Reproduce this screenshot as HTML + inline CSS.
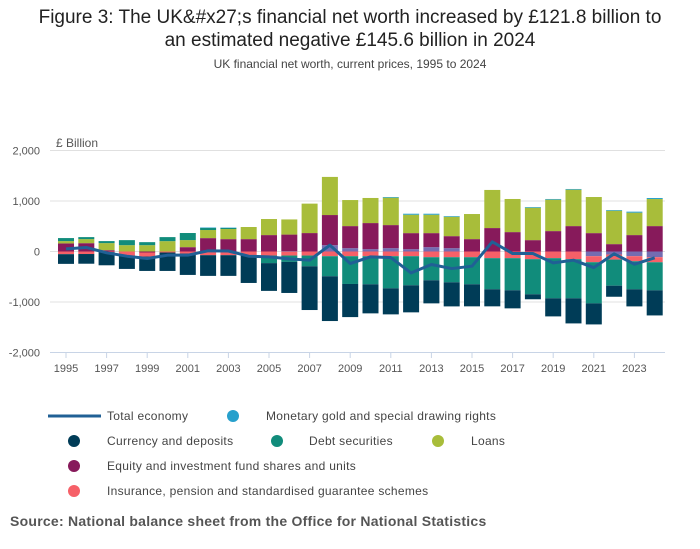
<!DOCTYPE html>
<html><head><meta charset="utf-8">
<style>
body{margin:0;background:#fff;font-family:"Liberation Sans",sans-serif;}
#wrap{position:relative;width:700px;height:549px;overflow:hidden;}
.t{position:absolute;left:0;width:700px;text-align:center;color:#222;}
</style></head>
<body>
<div id="wrap">
<div class="t" style="top:6px;font-size:19px;line-height:23px;">Figure 3: The UK&amp;#x27;s financial net worth increased by £121.8 billion to<br>an estimated negative £145.6 billion in 2024</div>
<div class="t" style="top:57px;font-size:12px;color:#444;">UK financial net worth, current prices, 1995 to 2024</div>
<svg id="chart" width="700" height="549" style="position:absolute;left:0;top:0"></svg>
</div>
<script>
const years=[1995,1996,1997,1998,1999,2000,2001,2002,2003,2004,2005,2006,2007,2008,2009,2010,2011,2012,2013,2014,2015,2016,2017,2018,2019,2020,2021,2022,2023,2024];
const currency=[-192,-192,-260,-265,-285,-365,-424,-410,-410,-550,-550,-615,-867,-887,-656,-576,-516,-536,-457,-477,-437,-338,-358,-99,-358,-497,-417,-219,-338,-497];
const debt=[60,40,40,100,60,80,140,40,20,0,-150,-126,-212,-397,-550,-556,-636,-576,-457,-497,-536,-616,-636,-695,-795,-775,-815,-517,-556,-556];
const loans=[46,80,140,125,125,205,140,160,200,240,318,300,583,755,516,497,543,364,364,384,497,755,656,642,623,722,715,662,444,536];
const equity=[160,165,26,0,-20,0,86,265,245,245,325,325,365,596,437,517,457,318,278,238,245,464,384,225,404,503,364,146,325,503];
const insurance=[-53,-50,-13,-80,-80,-20,-40,-73,-73,-73,-80,-80,-80,-93,-93,-93,-93,-93,-113,-113,-113,-132,-132,-152,-132,-152,-119,-100,-100,-100];
const gold=[0,0,0,0,0,0,0,10,8,0,0,0,0,0,0,0,13,20,20,13,0,0,0,13,13,13,0,13,20,20];
const other=[0,0,0,0,0,0,0,0,0,0,0,10,0,126,66,46,66,46,86,66,0,0,0,0,0,0,-93,-60,-93,-113];
const total=[53,80,-26,-93,-139,-73,-73,13,10,-93,-106,-146,-172,126,-238,-106,-119,-424,-258,-338,-291,192,-40,-40,-225,-172,-318,-46,-252,-126];
const yTicks=[2000,1000,0,-1000,-2000];
const yTickLabels=["2,000","1,000","0","-1,000","-2,000"];

const NS="http://www.w3.org/2000/svg";
const svg=document.getElementById('chart');
const X0=50,X1=665;
function xs(yr){return 66+(yr-1995)*20.3;}
function ys(v){return 251.5-v*0.0505;}
function mk(tag,attrs,parent){const e=document.createElementNS(NS,tag);for(const k in attrs)e.setAttribute(k,attrs[k]);(parent||svg).appendChild(e);return e;}

yTicks.forEach((v,i)=>{
  const g=mk('line',{x1:X0,x2:X1,y1:ys(v),y2:ys(v),stroke:v===-2000?'#c8d4e6':'#e0e0e0','stroke-width':1});
  
  
  const t=mk('text',{x:40,y:ys(v)+4,'text-anchor':'end','font-size':11,fill:'#555'});
  t.textContent=yTickLabels[i];
  
  
});
const yl=mk('text',{x:56,y:147,'font-size':12,fill:'#555'});yl.textContent='£ Billion';



const series=[
 {name:'other',vals:other,color:'#746cb1'},
 {name:'equity',vals:equity,color:'#871a5b'},
 {name:'insurance',vals:insurance,color:'#f66068'},
 {name:'loans',vals:loans,color:'#a8bd3a'},
 {name:'debt',vals:debt,color:'#118c7b'},
 {name:'currency',vals:currency,color:'#003c57'},
 {name:'gold',vals:gold,color:'#27a0cc'}];
years.forEach((yr,i)=>{
  let pos=0,neg=0;
  series.forEach(s=>{
    const v=s.vals[i];if(!v)return;
    let a,b;
    if(v>0){a=pos;b=pos+v;pos=b;}else{a=neg;b=neg+v;neg=b;}
    const r=mk('rect',{x:xs(yr)-8,width:16,y:Math.min(ys(a),ys(b)),height:Math.abs(ys(a)-ys(b)),fill:s.color});
    
    
  });
});
const pts=years.map((yr,i)=>xs(yr)+','+ys(total[i])).join(' ');
const pl=mk('polyline',{points:pts,fill:'none',stroke:'#206095','stroke-width':3,'stroke-linejoin':'round'});



const ax=mk('line',{x1:X0,x2:X1,y1:352.5,y2:352.5,stroke:'#c8d4e6','stroke-width':1});


years.forEach(yr=>{
  if((yr-1995)%2)return;
  const tk=mk('line',{x1:xs(yr),x2:xs(yr),y1:352,y2:358,stroke:'#c8d4e6'});
  
  
  const t=mk('text',{x:xs(yr),y:372,'text-anchor':'middle','font-size':11,fill:'#555'});
  t.textContent=yr;
  
  
});

const leg=[
 {type:'line',x:48,y:416,tx:107,label:'Total economy',color:'#206095'},
 {type:'dot',x:233,y:416,tx:266,label:'Monetary gold and special drawing rights',color:'#27a0cc'},
 {type:'dot',x:74,y:441,tx:107,label:'Currency and deposits',color:'#003c57'},
 {type:'dot',x:277,y:441,tx:309,label:'Debt securities',color:'#118c7b'},
 {type:'dot',x:438,y:441,tx:471,label:'Loans',color:'#a8bd3a'},
 {type:'dot',x:74,y:466,tx:107,label:'Equity and investment fund shares and units',color:'#871a5b'},
 {type:'dot',x:74,y:491,tx:107,label:'Insurance, pension and standardised guarantee schemes',color:'#f66068'}];
leg.forEach(l=>{
  const g=mk('g',{});
  
  
  if(l.type==='line')mk('line',{x1:l.x,x2:l.x+53,y1:l.y,y2:l.y,stroke:l.color,'stroke-width':3},g);
  else mk('circle',{cx:l.x,cy:l.y,r:6,fill:l.color},g);
  const t=mk('text',{x:l.tx,y:l.y+4,'font-size':12,fill:'#444','letter-spacing':'0.3'},g);t.textContent=l.label;
});
const src=mk('text',{x:10,y:526,'font-size':14,'font-weight':'bold',fill:'#555','letter-spacing':'0.25'});
src.textContent='Source: National balance sheet from the Office for National Statistics';


</script>
</body></html>
